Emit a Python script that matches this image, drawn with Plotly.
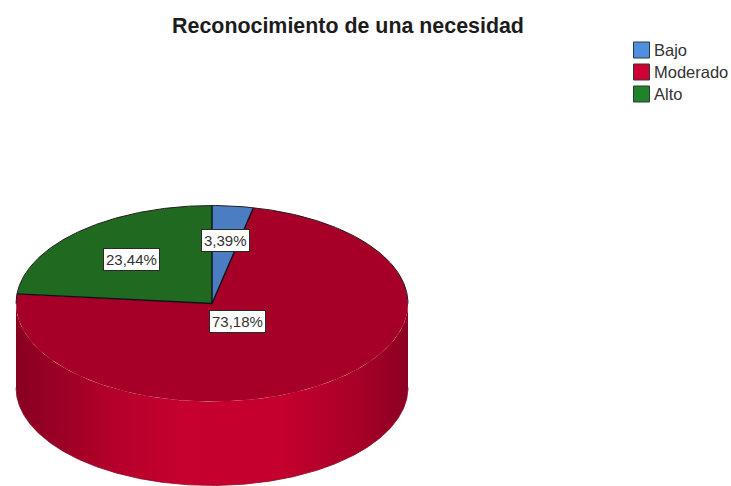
import numpy as np
import plotly.graph_objects as go

# Survey shares, percent
categories = ["Bajo", "Moderado", "Alto"]
percent_values = [3.39, 73.18, 23.44]
percent_labels = ["3,39%", "73,18%", "23,44%"]
slice_colors = ["#4a7dc2", "#a60028", "#1f6a20"]
legend_colors = ["#4f8fe0", "#cf0033", "#1f8428"]
title_text = "Reconocimiento de una necesidad"

# Pie drawn as a tilted disc, in pixel-like axis units
WIDTH, HEIGHT = 731, 486
CX, CY, RX, RY, DEPTH = 212, 303.5, 196, 98, 84
LABEL_RADIUS = [0.65, 0.225, 0.61]
FONT = "Liberation Sans, Arial, sans-serif"


def rim(theta_deg, drop=0.0):
    """Point on the disc edge; theta runs clockwise from the top."""
    t = np.radians(theta_deg)
    return CX + RX * np.sin(t), CY - RY * np.cos(t) + drop


def arc(start, end, drop=0.0):
    n = max(2, int(abs(end - start) * 2) + 1)
    return rim(np.linspace(start, end, n), drop)


total = sum(percent_values)
edges = np.concatenate([[0.0], np.cumsum(percent_values) / total * 360.0])

fig = go.Figure()

# Side wall: only the front half of the rim faces the viewer
wall_top = arc(90, 270)
wall_bottom = arc(270, 90, DEPTH)
fig.add_trace(go.Scatter(
    x=np.concatenate([wall_top[0], wall_bottom[0]]),
    y=np.concatenate([wall_top[1], wall_bottom[1]]),
    mode="lines", line=dict(width=0), fill="toself",
    fillgradient=dict(type="horizontal", colorscale=[
        [0.0, "#880021"], [0.08, "#960024"], [0.25, "#b4002a"],
        [0.42, "#c6002f"], [0.68, "#c4002e"], [0.86, "#aa0028"],
        [1.0, "#8c0022"],
    ]),
    hoverinfo="skip", showlegend=False,
))
fig.add_trace(go.Scatter(
    x=wall_bottom[0], y=wall_bottom[1], mode="lines",
    line=dict(width=0.8, color="#8a0a25"),
    hoverinfo="skip", showlegend=False,
))

# Top surface, one wedge per category
for i, name in enumerate(categories):
    ax, ay = arc(edges[i], edges[i + 1])
    fig.add_trace(go.Scatter(
        x=np.concatenate([[CX], ax, [CX]]),
        y=np.concatenate([[CY], ay, [CY]]),
        mode="lines", line=dict(width=0), fill="toself",
        fillcolor=slice_colors[i], name=name,
        hoverinfo="skip", showlegend=False,
    ))

# Radial dividers and the dark back rim
for edge in edges[:-1]:
    ex, ey = rim(edge)
    fig.add_trace(go.Scatter(
        x=[CX, ex], y=[CY, ey], mode="lines",
        line=dict(color="#101018", width=1.4),
        hoverinfo="skip", showlegend=False,
    ))
back_x, back_y = arc(-90, 90)
fig.add_trace(go.Scatter(
    x=back_x, y=back_y, mode="lines",
    line=dict(color="#2a1a20", width=1),
    hoverinfo="skip", showlegend=False,
))

# Legend swatches with their names
for row, name in enumerate(categories):
    fig.add_trace(go.Scatter(
        x=[641.5], y=[50 + 22 * row], mode="markers",
        marker=dict(symbol="square", size=16, color=legend_colors[row],
                    line=dict(color="#2c3a3a", width=1)),
        hoverinfo="skip", showlegend=False,
    ))
    fig.add_annotation(
        x=652, y=50 + 22 * row, text=name, showarrow=False, xanchor="left",
        font=dict(family=FONT, size=16.5, color="#333333"),
    )

# Boxed percentage labels at the middle of each wedge
for i, label in enumerate(percent_labels):
    mid = np.radians((edges[i] + edges[i + 1]) / 2)
    fig.add_annotation(
        x=CX + LABEL_RADIUS[i] * RX * np.sin(mid),
        y=CY - LABEL_RADIUS[i] * RY * np.cos(mid),
        text=label, showarrow=False, bgcolor="white",
        bordercolor="#2a2a2a", borderwidth=1, borderpad=2,
        font=dict(family=FONT, size=15, color="#333333"),
    )

fig.update_layout(
    width=WIDTH, height=HEIGHT, margin=dict(l=0, r=0, t=0, b=0),
    paper_bgcolor="white", plot_bgcolor="white", showlegend=False,
    title=dict(
        text=f"<b>{title_text}</b>", x=348 / WIDTH, xanchor="center",
        y=1 - 26 / HEIGHT, yanchor="middle",
        font=dict(family=FONT, size=21.4, color="#1c1c1c"),
    ),
    xaxis=dict(range=[0, WIDTH], visible=False, fixedrange=True),
    yaxis=dict(range=[HEIGHT, 0], visible=False, fixedrange=True),
)

fig.write_html("out.html", config=dict(displayModeBar=False))
